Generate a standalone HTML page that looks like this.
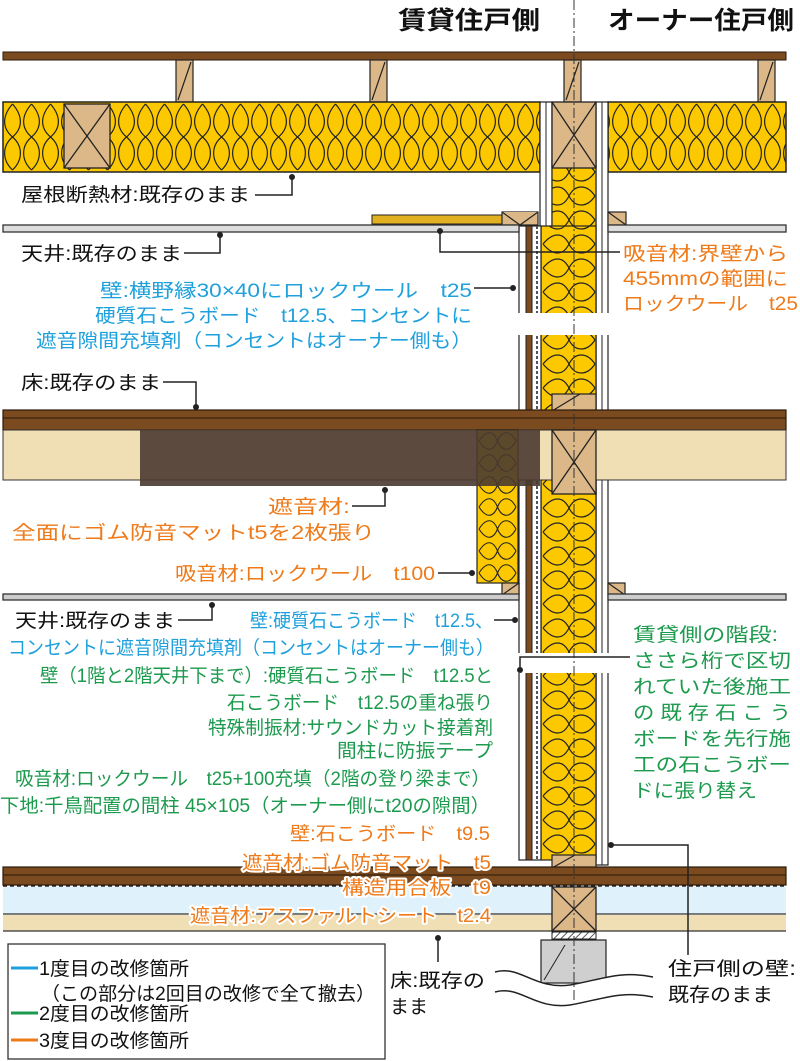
<!DOCTYPE html>
<html><head><meta charset="utf-8"><style>
html,body{margin:0;padding:0;background:#fff}
svg{display:block}
text{font-family:"Liberation Sans","Noto Sans CJK JP",sans-serif;font-size:19px}
.k{fill:#111}.b{fill:#1ea0dc}.g{fill:#1c9a4e}.o{fill:#ee7a1a}
.h{stroke:#fff;stroke-width:4px;paint-order:stroke;stroke-linejoin:round}
</style></head><body>
<svg width="800" height="1061" viewBox="0 0 800 1061" xmlns="http://www.w3.org/2000/svg">
<defs>
<pattern id="ih" x="3" y="102" width="19" height="70" patternUnits="userSpaceOnUse">
<rect width="19" height="70" fill="#fcc800"/>
<path d="M9.5,2 C-1,14 -1,26 9.5,35 C20,44 20,58 9.5,68 M9.5,2 C20,14 20,26 9.5,35 C-1,44 -1,58 9.5,68" fill="none" stroke="#222" stroke-width="1.2"/>
</pattern>
<pattern id="iv" x="541" y="160" width="56" height="24" patternUnits="userSpaceOnUse">
<rect width="56" height="24" fill="#fcc800"/>
<path d="M2,12 C12,0 22,0 28,12 C34,24 46,24 54,12 M2,12 C12,24 22,24 28,12 C34,0 46,0 54,12" fill="none" stroke="#222" stroke-width="1.2"/>
</pattern>
<pattern id="iv2" x="477" y="430" width="41" height="22" patternUnits="userSpaceOnUse">
<rect width="41" height="22" fill="#fcc800"/>
<path d="M2,11 C9,0 16,0 20.5,11 C25,22 33,22 39,11 M2,11 C9,22 16,22 20.5,11 C25,0 33,0 39,11" fill="none" stroke="#222" stroke-width="1.1"/>
</pattern>
<pattern id="hat" width="5" height="5" patternUnits="userSpaceOnUse" patternTransform="rotate(45)">
<rect width="5" height="5" fill="#fff"/><line x1="0" y1="0" x2="0" y2="5" stroke="#222" stroke-width="1.5"/>
</pattern>
</defs>

<text x="469" y="29" text-anchor="middle" style="font-size:25px;font-weight:bold" class="k" textLength="142" lengthAdjust="spacingAndGlyphs">賃貸住戸側</text>
<text x="701" y="29" text-anchor="middle" style="font-size:25px;font-weight:bold" class="k" textLength="186" lengthAdjust="spacingAndGlyphs">オーナー住戸側</text>

<rect x="3" y="52" width="783" height="8" fill="#7b4a1f" stroke="#2a1a0a" stroke-width="1"/>
<g fill="#dcb888" stroke="#222" stroke-width="1.2">
<rect x="176" y="60" width="17" height="42"/><line x1="178" y1="100" x2="191" y2="62"/>
<rect x="370" y="60" width="17" height="42"/><line x1="372" y1="100" x2="385" y2="62"/>
<rect x="564" y="60" width="17" height="42"/><line x1="566" y1="100" x2="579" y2="62"/>
<rect x="758" y="60" width="17" height="42"/><line x1="760" y1="100" x2="773" y2="62"/>
</g>
<rect x="3" y="102" width="537" height="70" fill="url(#ih)" stroke="#222" stroke-width="1.5"/>
<rect x="608" y="102" width="178" height="70" fill="url(#ih)" stroke="#222" stroke-width="1.5"/>
<g fill="#dcb888" stroke="#222" stroke-width="1.3">
<rect x="64" y="104" width="46" height="64"/><path d="M64,104 L110,168 M110,104 L64,168"/>
</g>

<rect x="540" y="102" width="12" height="126" fill="#fff" stroke="#222" stroke-width="1.2"/>
<line x1="546" y1="102" x2="546" y2="228" stroke="#222"/>
<rect x="596" y="102" width="12" height="763" fill="#fff" stroke="#222" stroke-width="1.2"/>
<line x1="602" y1="102" x2="602" y2="865" stroke="#222"/>
<rect x="552" y="160" width="44" height="700" fill="url(#iv)" stroke="#222" stroke-width="1.2"/>
<rect x="541" y="226" width="55" height="634" fill="url(#iv)" stroke="#222" stroke-width="1.2"/>
<g fill="#dcb888" stroke="#222" stroke-width="1.3">
<rect x="552" y="102" width="44" height="66"/><path d="M552,102 L596,168 M596,102 L552,168"/>
</g>
<rect x="519" y="226" width="22" height="634" fill="#fff" stroke="#222" stroke-width="1.2"/>
<rect x="526" y="226" width="6" height="634" fill="#7b4a1f" stroke="#222" stroke-width="1"/>
<line x1="537" y1="226" x2="537" y2="860" stroke="#555" stroke-width="2" stroke-dasharray="3,2"/>

<rect x="372" y="215" width="130" height="9" fill="#e0b020" stroke="#222" stroke-width="1"/>
<g fill="#dcb888" stroke="#222" stroke-width="1.2">
<rect x="502" y="212" width="36" height="13"/><path d="M502,212 L520,225 L538,212"/>
<rect x="608" y="212" width="18" height="13"/><path d="M608,212 L626,225"/>
</g>
<rect x="3" y="225" width="516" height="7" fill="#ddd" stroke="#333" stroke-width="1.3"/>
<rect x="608" y="225" width="178" height="7" fill="#ddd" stroke="#333" stroke-width="1.3"/>

<rect x="512" y="313" width="110" height="22" fill="#fff"/>

<g fill="#dcb888" stroke="#222" stroke-width="1.2">
<rect x="552" y="394" width="44" height="17"/><path d="M552,411 L580,394"/>
</g>
<rect x="3" y="410" width="783" height="20" fill="#7b4a1f" stroke="#2a1a0a" stroke-width="1.2"/>
<line x1="3" y1="418" x2="786" y2="418" stroke="#2a1a0a" stroke-width="1"/>
<rect x="3" y="430" width="783" height="50" fill="#f0deb4" stroke="#333" stroke-width="1"/>
<rect x="477" y="430" width="41" height="153" fill="url(#iv2)" stroke="#222" stroke-width="1.2"/>
<rect x="140" y="430" width="400" height="56" fill="#4a3a30" fill-opacity="0.9"/>
<g fill="#dcb888" stroke="#222" stroke-width="1.3">
<rect x="552" y="430" width="44" height="64"/><path d="M552,430 L596,494 M596,430 L552,494"/>
</g>

<g fill="#dcb888" stroke="#222" stroke-width="1.2">
<rect x="502" y="583" width="17" height="12"/><path d="M502,595 L519,583"/>
<rect x="608" y="583" width="17" height="12"/><path d="M608,583 L625,595"/>
</g>
<rect x="3" y="594" width="516" height="6" fill="#ccc" stroke="#333" stroke-width="1.3"/>
<rect x="608" y="594" width="178" height="6" fill="#ccc" stroke="#333" stroke-width="1.3"/>

<rect x="512" y="653" width="110" height="20" fill="#fff"/>

<g fill="#dcb888" stroke="#222" stroke-width="1.2">
<rect x="552" y="855" width="44" height="13"/><path d="M552,868 L575,855"/>
</g>
<rect x="3" y="867" width="783" height="18" fill="#7b4a1f" stroke="#2a1a0a" stroke-width="1.2"/>
<line x1="3" y1="875" x2="786" y2="875" stroke="#2a1a0a"/>
<line x1="3" y1="886" x2="786" y2="886" stroke="#222" stroke-width="1.5" stroke-dasharray="4,3"/>
<rect x="3" y="887" width="783" height="27" fill="#dff1fb"/>
<line x1="3" y1="914" x2="786" y2="914" stroke="#333" stroke-width="1.3"/>
<rect x="3" y="915" width="783" height="16" fill="#f0deb4"/>
<line x1="3" y1="931" x2="786" y2="931" stroke="#333" stroke-width="1.3"/>
<g fill="#dcb888" stroke="#222" stroke-width="1.3">
<rect x="552" y="887" width="44" height="44"/><path d="M552,887 L596,931 M596,887 L552,931"/>
</g>
<rect x="552" y="932" width="44" height="7" fill="url(#hat)" stroke="#222"/>
<rect x="541" y="940" width="65" height="43" fill="#cfcfcf" stroke="#222" stroke-width="1.2"/>
<line x1="544" y1="980" x2="565" y2="945" stroke="#222"/>
<path d="M495,972 C520,965 535,990 570,985 C600,980 620,970 653,977 L653,997 C620,990 600,1000 570,1005 C535,1010 520,985 495,992 Z" fill="#fff"/>
<path d="M495,972 C520,965 535,990 570,985 C600,980 620,970 653,977" fill="none" stroke="#222" stroke-width="1.5"/>
<path d="M495,992 C520,985 535,1010 570,1005 C600,1000 620,990 653,997" fill="none" stroke="#222" stroke-width="1.5"/>

<line x1="574" y1="0" x2="574" y2="1000" stroke="#333" stroke-width="1" stroke-dasharray="10,3,2,3"/>

<g fill="none" stroke="#222" stroke-width="1.5">
<path d="M255,195 H292 V177"/>
<path d="M184,253 H220 V235"/>
<path d="M474,288 H513"/>
<path d="M620,252 H440 V231"/>
<path d="M163,382 H196 V407"/>
<path d="M352,506 H385 V490"/>
<path d="M438,573 H472"/>
<path d="M178,620 H212 V605"/>
<path d="M494,620 H515"/>
<path d="M630,657 H520 V670"/>
<path d="M611,845 H688 V955"/>
<path d="M438,938 V962"/>
</g>
<g fill="#222">
<circle cx="292" cy="177" r="3"/><circle cx="220" cy="235" r="3"/><circle cx="513" cy="288" r="3"/>
<circle cx="440" cy="231" r="3"/><circle cx="196" cy="407" r="3"/><circle cx="385" cy="490" r="3"/>
<circle cx="472" cy="573" r="3"/><circle cx="212" cy="605" r="3"/><circle cx="515" cy="620" r="3"/>
<circle cx="520" cy="670" r="3"/><circle cx="611" cy="845" r="3"/><circle cx="438" cy="938" r="3"/>
</g>

<text x="21" y="201" class="k" textLength="229" lengthAdjust="spacingAndGlyphs">屋根断熱材:既存のまま</text>
<text x="21" y="260" class="k" textLength="161" lengthAdjust="spacingAndGlyphs">天井:既存のまま</text>
<text x="100" y="297" class="b" textLength="372" lengthAdjust="spacingAndGlyphs">壁:横野縁30×40にロックウール　t25</text>
<text x="95" y="322" class="b" textLength="377" lengthAdjust="spacingAndGlyphs">硬質石こうボード　t12.5、コンセントに</text>
<text x="36" y="347" class="b" textLength="436" lengthAdjust="spacingAndGlyphs">遮音隙間充填剤（コンセントはオーナー側も）</text>
<text x="623" y="260" class="o" textLength="165" lengthAdjust="spacingAndGlyphs">吸音材:界壁から</text>
<text x="623" y="285" class="o" textLength="165" lengthAdjust="spacingAndGlyphs">455mmの範囲に</text>
<text x="623" y="310" class="o" textLength="175" lengthAdjust="spacingAndGlyphs">ロックウール　t25</text>
<text x="21" y="389" class="k" textLength="140" lengthAdjust="spacingAndGlyphs">床:既存のまま</text>
<text x="268" y="513" class="o" textLength="82" lengthAdjust="spacingAndGlyphs">遮音材:</text>
<text x="12" y="539" class="o" textLength="363" lengthAdjust="spacingAndGlyphs">全面にゴム防音マットt5を2枚張り</text>
<text x="175" y="580" class="o" textLength="260" lengthAdjust="spacingAndGlyphs">吸音材:ロックウール　t100</text>
<text x="15" y="627" class="k" textLength="160" lengthAdjust="spacingAndGlyphs">天井:既存のまま</text>
<text x="250" y="627" class="b" textLength="243" lengthAdjust="spacingAndGlyphs">壁:硬質石こうボード　t12.5、</text>
<text x="8" y="654" class="b" textLength="486" lengthAdjust="spacingAndGlyphs">コンセントに遮音隙間充填剤（コンセントはオーナー側も）</text>
<text x="40" y="682" class="g" textLength="453" lengthAdjust="spacingAndGlyphs">壁（1階と2階天井下まで）:硬質石こうボード　t12.5と</text>
<text x="227" y="709" class="g" textLength="266" lengthAdjust="spacingAndGlyphs">石こうボード　t12.5の重ね張り</text>
<text x="208" y="734" class="g" textLength="285" lengthAdjust="spacingAndGlyphs">特殊制振材:サウンドカット接着剤</text>
<text x="337" y="757" class="g" textLength="156" lengthAdjust="spacingAndGlyphs">間柱に防振テープ</text>
<text x="15" y="785" class="g" textLength="475" lengthAdjust="spacingAndGlyphs">吸音材:ロックウール　t25+100充填（2階の登り梁まで）</text>
<text x="0" y="812" class="g" textLength="490" lengthAdjust="spacingAndGlyphs">下地:千鳥配置の間柱 45×105（オーナー側にt20の隙間）</text>
<text x="290" y="840" class="o h" textLength="200" lengthAdjust="spacingAndGlyphs">壁:石こうボード　t9.5</text>
<text x="242" y="869" class="o h" textLength="249" lengthAdjust="spacingAndGlyphs">遮音材:ゴム防音マット　t5</text>
<text x="342" y="894" class="o h" textLength="149" lengthAdjust="spacingAndGlyphs">構造用合板　t9</text>
<text x="190" y="922" class="o h" textLength="301" lengthAdjust="spacingAndGlyphs">遮音材:アスファルトシート　t2.4</text>

<text x="633" y="641" textLength="145" lengthAdjust="spacingAndGlyphs" class="g">賃貸側の階段:</text>
<text x="633" y="667" textLength="158" lengthAdjust="spacingAndGlyphs" class="g">ささら桁で区切</text>
<text x="633" y="693" textLength="158" lengthAdjust="spacingAndGlyphs" class="g">れていた後施工</text>
<text x="633" y="719" textLength="158" lengthAdjust="spacingAndGlyphs" class="g">の 既 存 石 こ う</text>
<text x="633" y="745" textLength="158" lengthAdjust="spacingAndGlyphs" class="g">ボードを先行施</text>
<text x="633" y="771" textLength="158" lengthAdjust="spacingAndGlyphs" class="g">工の石こうボー</text>
<text x="633" y="797" textLength="124" lengthAdjust="spacingAndGlyphs" class="g">ドに張り替え</text>

<text x="390" y="987" class="k" textLength="95" lengthAdjust="spacingAndGlyphs">床:既存の</text>
<text x="390" y="1013" class="k" textLength="38" lengthAdjust="spacingAndGlyphs">まま</text>
<text x="668" y="975" class="k" textLength="128" lengthAdjust="spacingAndGlyphs">住戸側の壁:</text>
<text x="668" y="1001" class="k" textLength="105" lengthAdjust="spacingAndGlyphs">既存のまま</text>

<rect x="8" y="944" width="377" height="115" fill="#fff" stroke="#333" stroke-width="1.3"/>
<line x1="11" y1="968" x2="38" y2="968" stroke="#1ea0dc" stroke-width="3"/>
<line x1="11" y1="1013" x2="38" y2="1013" stroke="#1c9a4e" stroke-width="3"/>
<line x1="11" y1="1040" x2="38" y2="1040" stroke="#ee7a1a" stroke-width="3"/>
<text x="39" y="975" class="k" textLength="150" lengthAdjust="spacingAndGlyphs">1度目の改修箇所</text>
<text x="41" y="1000" class="k" textLength="334" lengthAdjust="spacingAndGlyphs">（この部分は2回目の改修で全て撤去）</text>
<text x="39" y="1020" class="k" textLength="150" lengthAdjust="spacingAndGlyphs">2度目の改修箇所</text>
<text x="39" y="1047" class="k" textLength="150" lengthAdjust="spacingAndGlyphs">3度目の改修箇所</text>
</svg>
</body></html>
